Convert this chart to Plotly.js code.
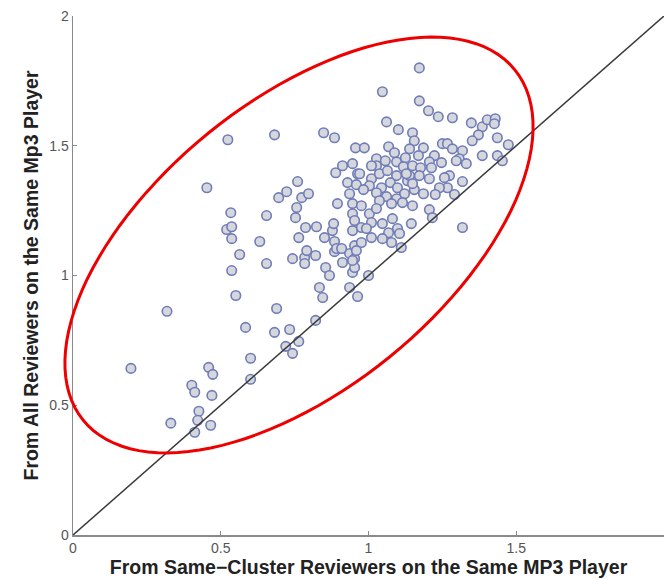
<!DOCTYPE html>
<html>
<head>
<meta charset="utf-8">
<script src="https://cdn.plot.ly/plotly-3.0.1.min.js"></script>
<style>html,body{margin:0;padding:0;background:#fff;}#chart{width:664px;height:579px;}</style>
</head>
<body>
<div id="chart"></div>
<script>
// Values
const sameClusterX = [
 0.196,0.318,0.331,0.402,0.412,0.426,0.422,0.412,0.466,0.470,0.459,0.473,0.601,0.601,0.584,0.551,0.537,0.564,0.655,0.689,
 0.682,0.733,0.720,0.743,0.764,0.821,0.834,0.845,0.855,0.868,0.912,0.936,0.963,0.946,0.953,0.743,0.784,0.784,0.821,0.885,
 0.936,0.953,1.000,0.524,0.682,0.453,0.534,0.655,0.520,0.537,0.537,0.632,0.696,0.723,0.760,0.774,0.757,0.753,0.787,0.764,
 0.797,0.824,0.851,0.878,0.882,0.885,0.892,0.909,0.895,0.889,0.912,0.946,0.929,0.936,0.946,0.946,0.953,0.946,0.953,0.963,
 0.791,0.848,0.885,0.956,0.986,1.047,1.172,1.172,1.061,1.101,1.149,1.068,1.155,1.139,1.088,1.027,1.057,1.095,1.125,1.203,
 1.236,1.284,1.348,1.385,1.402,1.429,1.426,1.372,1.351,1.436,1.473,1.436,1.385,1.186,1.169,1.250,1.267,1.284,1.318,1.307,
 1.223,1.206,1.247,1.331,1.453,1.027,0.970,1.010,1.037,1.064,1.095,1.118,1.149,1.176,1.213,1.274,0.959,1.003,1.044,1.074,
 1.098,1.132,1.172,1.206,1.257,1.267,1.240,1.318,1.291,1.226,1.186,1.155,1.122,1.095,1.061,1.027,0.983,0.976,1.037,1.003,
 1.027,1.078,1.115,1.149,1.206,1.216,0.976,1.010,1.047,1.081,1.098,1.145,1.068,1.047,1.010,0.976,0.959,0.946,1.078,1.105,
 1.111,1.318,1.139,1.149,1.297,0.993,1.010,1.128
];
const allReviewersY = [
 0.642,0.862,0.431,0.577,0.550,0.477,0.442,0.396,0.423,0.538,0.646,0.619,0.600,0.681,0.800,0.923,1.019,1.081,1.046,0.873,
 0.781,0.792,0.727,0.700,0.746,0.827,0.954,0.915,1.031,1.000,1.050,0.954,0.919,1.012,1.031,1.065,1.069,1.046,1.077,1.092,
 1.085,1.065,1.000,1.523,1.542,1.338,1.242,1.231,1.177,1.188,1.142,1.131,1.300,1.323,1.362,1.300,1.262,1.223,1.185,1.146,
 1.315,1.188,1.146,1.173,1.200,1.131,1.104,1.104,1.277,1.396,1.423,1.431,1.358,1.315,1.277,1.238,1.212,1.173,1.115,1.392,
 1.096,1.550,1.531,1.492,1.492,1.708,1.800,1.673,1.592,1.562,1.550,1.496,1.519,1.488,1.473,1.450,1.442,1.438,1.454,1.635,
 1.612,1.608,1.588,1.573,1.600,1.604,1.585,1.542,1.519,1.531,1.504,1.462,1.462,1.492,1.462,1.508,1.508,1.488,1.481,1.450,
 1.462,1.438,1.435,1.431,1.442,1.423,1.392,1.373,1.392,1.404,1.385,1.419,1.423,1.415,1.415,1.385,1.350,1.346,1.338,1.358,
 1.338,1.365,1.385,1.373,1.377,1.338,1.338,1.362,1.312,1.312,1.315,1.331,1.315,1.296,1.304,1.319,1.331,1.269,1.288,1.238,
 1.258,1.277,1.281,1.269,1.254,1.223,1.185,1.204,1.200,1.219,1.181,1.200,1.165,1.142,1.146,1.127,1.096,1.058,1.127,1.162,
 1.108,1.185,1.385,1.354,1.442,1.181,1.423,1.392
];
const xTickVals = [0, 0.5, 1, 1.5];
const xTickText = ["0", "0.5", "1", "1.5"];
const yTickVals = [0, 0.5, 1, 1.5, 2];
const yTickText = ["0", "0.5", "1", "1.5", "2"];
const xTitle = "From Same\u2212Cluster Reviewers on the Same MP3 Player";
const yTitle = "From All Reviewers on the Same Mp3 Player";

// Decorative highlight ellipse, in paper (plot-area fraction) units so it may extend past the axis
const ell = {cx: 0.3824, cy: 0.5588, a: 278, b: 144, angleDeg: 39.1, plotW: 591, plotH: 519};
function ellipsePath(e) {
  const th = e.angleDeg * Math.PI / 180;
  let d = '';
  for (let i = 0; i <= 120; i++) {
    const t = 2 * Math.PI * i / 120;
    const dx = e.a * Math.cos(t) * Math.cos(th) - e.b * Math.sin(t) * Math.sin(th);
    const dy = e.a * Math.cos(t) * Math.sin(th) + e.b * Math.sin(t) * Math.cos(th);
    const x = e.cx + dx / e.plotW, y = e.cy + dy / e.plotH;
    d += (i === 0 ? 'M' : 'L') + x.toFixed(4) + ',' + y.toFixed(4);
  }
  return d + 'Z';
}

const trace = {
  x: sameClusterX, y: allReviewersY, type: 'scatter', mode: 'markers',
  marker: {size: 9.5, color: '#d5d7dc', line: {color: '#6f7cb8', width: 1.6}},
  hoverinfo: 'x+y', showlegend: false
};

const axisCommon = {
  showline: true, linecolor: '#8a8a8a', linewidth: 1.5,
  ticks: 'inside', ticklen: 4, tickcolor: '#8a8a8a', tickwidth: 1,
  showgrid: false, zeroline: false,
  tickfont: {family: 'Liberation Sans, Arial, sans-serif', size: 14, color: '#555'}
};

const titleFont = {family: 'Liberation Sans, Arial, sans-serif', size: 19.5, color: '#222', weight: 'bold'};

const layout = {
  width: 664, height: 579,
  margin: {l: 73, r: 0, t: 16, b: 44},
  paper_bgcolor: '#fff', plot_bgcolor: '#fff',
  xaxis: Object.assign({}, axisCommon, {
    range: [0, 2], tickvals: xTickVals, ticktext: xTickText,
    title: {text: xTitle, standoff: 0, font: titleFont}
  }),
  yaxis: Object.assign({}, axisCommon, {
    range: [0, 2], tickvals: yTickVals, ticktext: yTickText,
    title: {text: yTitle, standoff: 5, font: titleFont}
  }),
  shapes: [
    {type: 'line', xref: 'x', yref: 'y', x0: 0, y0: 0, x1: 2, y1: 2, line: {color: '#3a3a3a', width: 1.5}, layer: 'above'},
    {type: 'path', xref: 'paper', yref: 'paper', path: ellipsePath(ell), line: {color: '#ee0000', width: 3}, layer: 'above'}
  ]
};

Plotly.newPlot('chart', [trace], layout, {displayModeBar: false, staticPlot: true});
</script>
</body>
</html>
